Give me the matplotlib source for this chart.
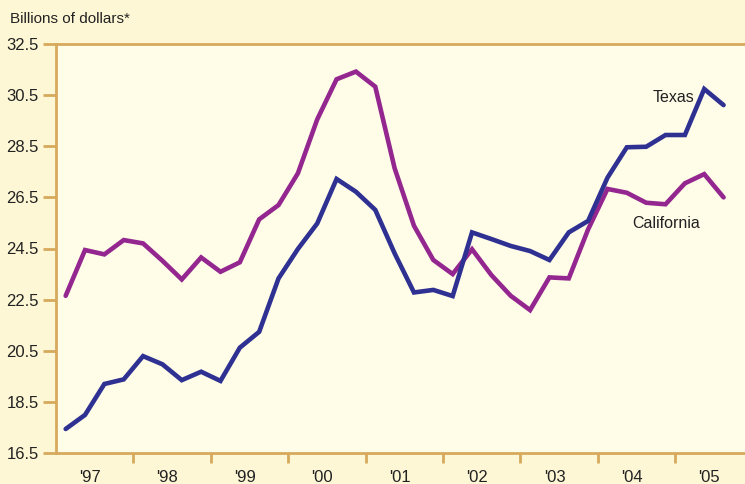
import matplotlib
matplotlib.use("Agg")
import matplotlib.pyplot as plt
from matplotlib.ticker import FixedLocator, NullFormatter

plt.rcParams['font.family'] = ['Liberation Sans Narrow', 'Liberation Sans', 'DejaVu Sans']

texas = [17.44, 17.99, 19.20, 19.38, 20.29, 19.97, 19.35, 19.68, 19.32, 20.62,
         21.24, 23.33, 24.48, 25.48, 27.22, 26.72, 26.01, 24.31, 22.78, 22.88,
         22.64, 25.13, 24.87, 24.60, 24.40, 24.05, 25.13, 25.58, 27.27, 28.46,
         28.48, 28.94, 28.94, 30.74, 30.11]
california = [22.65, 24.44, 24.27, 24.83, 24.70, 24.02, 23.29, 24.15, 23.59, 23.96,
              25.64, 26.20, 27.44, 29.55, 31.12, 31.42, 30.83, 27.64, 25.39, 24.05,
              23.50, 24.47, 23.46, 22.65, 22.09, 23.37, 23.33, 25.25, 26.83, 26.68,
              26.29, 26.23, 27.05, 27.41, 26.50]
years = list(range(1997, 2006))
year_labels = ["'97", "'98", "'99", "'00", "'01", "'02", "'03", "'04", "'05"]
y_ticks = [16.5, 18.5, 20.5, 22.5, 24.5, 26.5, 28.5, 30.5, 32.5]

x = [1997 + (i + 0.5) / 4 for i in range(len(texas))]

W, H = 745, 484
fig = plt.figure(figsize=(W / 100, H / 100), dpi=100)
fig.patch.set_facecolor('#FDF7D5')
ax = fig.add_axes([56 / W, 1 - 453 / H, (W - 56) / W, (453 - 44) / H])
ax.set_facecolor('#FFFCE8')

spine_c = '#D6A95C'
ax.plot(x, california, color='#93278F', lw=3.3, solid_joinstyle='miter', solid_capstyle='round', zorder=3)
ax.plot(x, texas, color='#2E3192', lw=3.3, solid_joinstyle='miter', solid_capstyle='round', zorder=4)

ax.set_ylim(16.5, 32.5)
ax.set_xlim(1997, 1997 + (W - 56) / 77.4)

for s in ['left', 'bottom', 'top']:
    ax.spines[s].set_color(spine_c)
    ax.spines[s].set_linewidth(2)
ax.spines['right'].set_visible(False)

ax.set_yticks(y_ticks)
ax.set_yticklabels([f"{v:.1f}" for v in y_ticks], fontsize=12, color='#222222')
ax.tick_params(axis='y', direction='out', length=9.5, width=2, color=spine_c, pad=3)

ax.xaxis.set_major_locator(FixedLocator(years[1:]))
ax.xaxis.set_major_formatter(NullFormatter())
ax.xaxis.set_minor_locator(FixedLocator([yr + 0.44 for yr in years]))
ax.set_xticklabels(year_labels, minor=True, fontsize=12, color='#222222')
ax.tick_params(axis='x', which='major', direction='out', length=7.5, width=2, color=spine_c)
ax.tick_params(axis='x', which='minor', length=0, pad=12)

fig.text(10 / W, 1 - 19 / H, 'Billions of dollars*', fontsize=11, color='#222222', va='center', ha='left')
ax.text(2004.71, 30.39, 'Texas', fontsize=11.5, color='#222222', ha='left', va='center')
ax.text(2004.44, 25.46, 'California', fontsize=11.5, color='#222222', ha='left', va='center')

fig.savefig('out.png', dpi=100, facecolor=fig.get_facecolor())
